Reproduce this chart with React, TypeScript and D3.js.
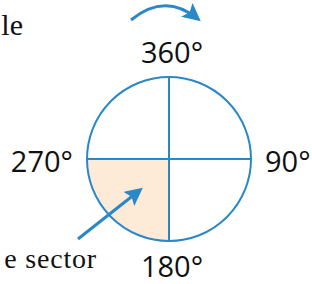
import React, { useEffect, useRef } from 'react';
import * as d3 from 'd3';

// degree labels around the circle (clockwise from top)
const angleLabels = ['360°', '90°', '180°', '270°'];
const labelAngles = [0, 90, 180, 270];
// shaded quadrant: from 180° to 270°
const sectorRange = [180, 270];
const captions = ['le', 'e sector'];

const W = 312;
const H = 284;
const BLUE = '#2a87c8';
const FILL = '#fdebd8';

const App: React.FC = () => {
  const svgRef = useRef<SVGSVGElement>(null);

  useEffect(() => {
    if (!svgRef.current) return;
    const svg = d3.select(svgRef.current).html('');

    const cx = 169;
    const cy = 159;
    const r = 82;
    const toRad = d3.scaleLinear().domain([0, 360]).range([0, 2 * Math.PI]);

    const defs = svg.append('defs');
    defs.append('marker')
      .attr('id', 'head')
      .attr('viewBox', '0 0 10 10')
      .attr('refX', 8)
      .attr('refY', 5)
      .attr('markerWidth', 6)
      .attr('markerHeight', 6)
      .attr('markerUnits', 'strokeWidth')
      .attr('orient', 'auto')
      .append('path')
      .attr('d', 'M0,0 L10,5 L0,10 L2,5 Z')
      .attr('fill', BLUE);

    const g = svg.append('g').attr('transform', `translate(${cx},${cy})`);

    // shaded sector
    const sectorArc = d3.arc<any>()
      .innerRadius(0)
      .outerRadius(r)
      .startAngle(toRad(sectorRange[0]))
      .endAngle(toRad(sectorRange[1]));
    g.append('path').attr('d', sectorArc({}) as string).attr('fill', FILL);

    // cross lines
    g.append('line').attr('x1', -r).attr('x2', r).attr('y1', 0).attr('y2', 0)
      .attr('stroke', BLUE).attr('stroke-width', 2);
    g.append('line').attr('x1', 0).attr('x2', 0).attr('y1', -r).attr('y2', r)
      .attr('stroke', BLUE).attr('stroke-width', 2);

    // circle
    g.append('circle').attr('r', r).attr('fill', 'none')
      .attr('stroke', BLUE).attr('stroke-width', 2);

    // degree labels
    labelAngles.forEach((a, i) => {
      const t = toRad(a);
      const sx = Math.sin(t);
      const sy = -Math.cos(t);
      const anchor = Math.abs(sx) < 0.1 ? 'middle' : sx > 0 ? 'start' : 'end';
      const x = sx * (r + 14) + (anchor === 'middle' ? 3 : 0);
      const y = sy > 0.5 ? r + 36 : sy < -0.5 ? -r - 14 : 13;
      g.append('text')
        .attr('x', x)
        .attr('y', y)
        .attr('text-anchor', anchor)
        .attr('font-family', '"Open Sans", sans-serif')
        .attr('font-size', 29)
        .attr('fill', '#111')
        .text(angleLabels[i]);
    });

    // clockwise direction arrow above the circle
    const top = -r - 57;
    g.append('path')
      .attr('d', `M${-38},${top} Q${-4},${top - 28} ${29},${top - 1}`)
      .attr('fill', 'none')
      .attr('stroke', BLUE)
      .attr('stroke-width', 3)
      .attr('marker-end', 'url(#head)');

    // pointer arrow into the sector
    g.append('line')
      .attr('x1', -91).attr('y1', 80)
      .attr('x2', -29).attr('y2', 31)
      .attr('stroke', BLUE)
      .attr('stroke-width', 3)
      .attr('marker-end', 'url(#head)');

    // captions (cropped at the left edge)
    svg.append('text')
      .attr('x', 23).attr('y', 35)
      .attr('text-anchor', 'end')
      .attr('font-family', '"Liberation Serif", serif')
      .attr('font-size', 30)
      .attr('fill', '#111')
      .text(captions[0]);
    svg.append('text')
      .attr('x', 97).attr('y', 268)
      .attr('text-anchor', 'end')
      .attr('font-family', '"Liberation Serif", serif')
      .attr('font-size', 28)
      .attr('letter-spacing', 0.8)
      .attr('fill', '#111')
      .text(captions[1]);
  }, []);

  return (
    <svg
      ref={svgRef}
      width={W}
      height={H}
      style={{ position: 'absolute', left: 0, top: 0, background: '#fff' }}
    />
  );
};

export default App;
